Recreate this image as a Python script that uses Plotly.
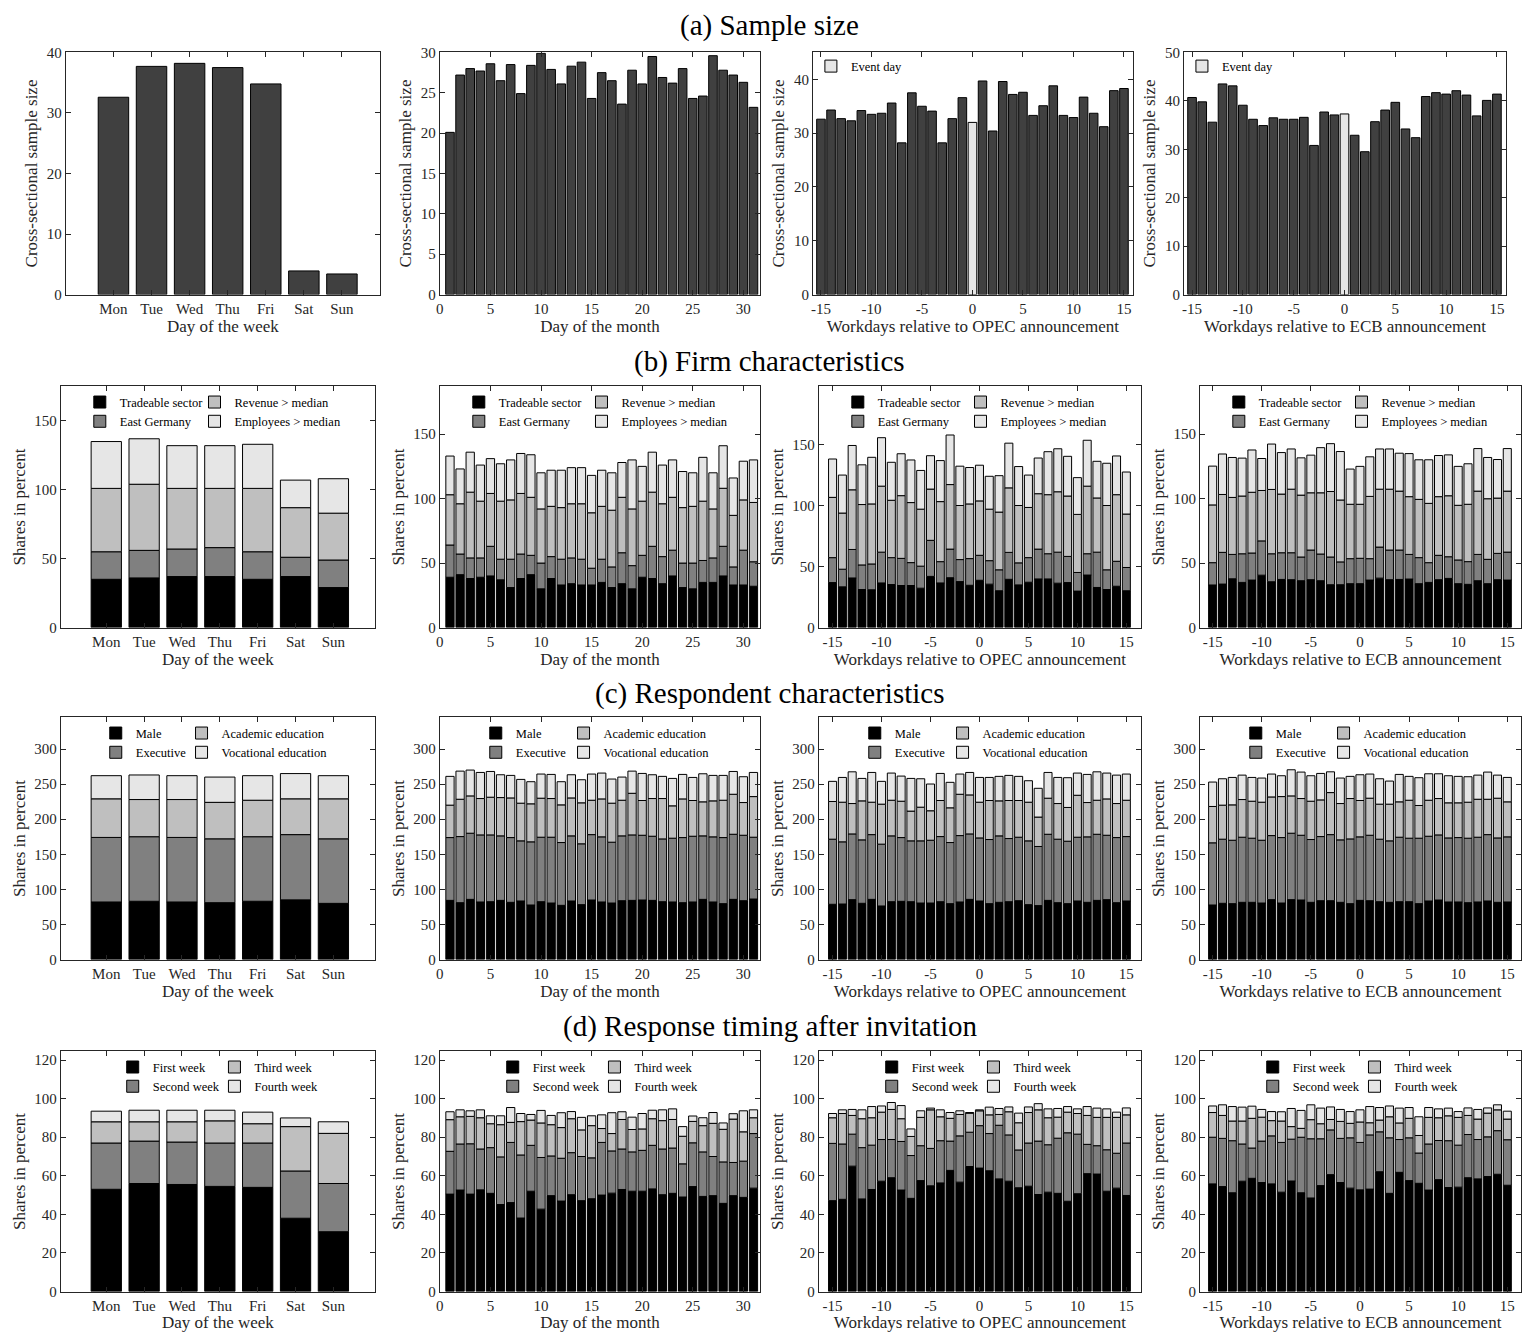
import numpy as np
import plotly.graph_objects as go

W, H = 1535, 1341
FONT = "Liberation Serif"
INK = "#262626"

# ---------------- data ----------------
weekdays = ["Mon", "Tue", "Wed", "Thu", "Fri", "Sat", "Sun"]
week_x = list(range(1, 8))
month_days = list(range(1, 32))
rel_days = list(range(-15, 16))

# (a) sample size
size_week = [32.6, 37.7, 38.2, 37.5, 34.8, 3.9, 3.4]
size_month = [20.1, 27.2, 28.0, 27.7, 28.6, 26.5, 28.5, 24.9, 28.4, 29.9, 27.9, 26.1, 28.3, 28.8, 24.3, 27.5,
              26.5, 23.6, 27.8, 26.1, 29.5, 26.9, 26.2, 28.0, 24.3, 24.6, 29.6, 27.8, 27.2, 26.3, 23.2]
size_opec = [32.6, 34.3, 32.7, 32.3, 34.2, 33.5, 33.7, 35.6, 28.2, 37.5, 35.0, 34.1, 28.2, 32.7, 36.6, 32.0,
             39.7, 30.4, 39.6, 37.2, 37.6, 33.3, 35.1, 38.8, 33.3, 32.9, 36.7, 33.7, 31.2, 37.9, 38.3]
size_ecb = [40.7, 39.8, 35.6, 43.5, 43.1, 39.1, 36.2, 34.9, 36.5, 36.2, 36.2, 36.6, 30.8, 37.7, 37.1, 37.3,
            32.9, 29.5, 35.7, 38.1, 39.7, 34.2, 32.4, 40.9, 41.7, 41.4, 42.1, 41.2, 36.9, 40.1, 41.4]

# (b) firm characteristics: cumulative stack tops
firm_names = ["Tradeable sector", "East Germany", "Revenue > median", "Employees > median"]
firm_week_tradeable = [35, 36, 37, 37, 35, 37, 29]
firm_week_east = [55, 56, 57, 58, 55, 51, 49]
firm_week_revenue = [101, 104, 101, 101, 101, 87, 83]
firm_week_employees = [135, 137, 132, 132, 133, 107, 108]

firm_month_tradeable = [39, 41, 38, 39, 40, 37, 31, 38, 41, 30, 38, 33, 34, 33, 33, 35, 31, 34, 30, 39, 38, 34,
                        40, 31, 30, 35, 35, 40, 33, 33, 32]
firm_month_east = [64, 57, 54, 54, 63, 53, 53, 57, 56, 50, 55, 53, 54, 53, 46, 53, 47, 58, 48, 56, 63, 55, 60,
                   50, 50, 52, 54, 63, 47, 60, 51]
firm_month_revenue = [103, 96, 105, 98, 104, 98, 99, 104, 101, 92, 94, 93, 96, 96, 89, 94, 91, 101, 92, 98, 105,
                      96, 101, 93, 94, 98, 92, 108, 87, 99, 97]
firm_month_employees = [133, 123, 136, 126, 131, 127, 130, 135, 134, 120, 122, 122, 124, 124, 118, 122, 120, 128,
                        130, 125, 136, 126, 130, 121, 120, 132, 120, 141, 116, 129, 130]

firm_opec_tradeable = [36.9, 33.4, 40.7, 31.2, 31, 36.6, 35.3, 34.5, 34.5, 32.3, 42, 36.6, 40.9, 37.7, 34.7, 38.8,
                       35.6, 30.2, 39.6, 35, 37.2, 39.9, 39.9, 36.4, 36.9, 29.9, 43.1, 32.9, 31.2, 33.9, 30.2]
firm_opec_east = [57.4, 47.9, 64.1, 51.4, 52.2, 61.9, 57.4, 56.8, 53.3, 50.4, 71.6, 54.1, 64.4, 55.8, 56.6, 59.3,
                  54.9, 47.4, 61.7, 53.1, 57.4, 64.4, 60.6, 61.9, 58.4, 45.2, 60.6, 61.9, 47.4, 54.4, 49.3]
firm_opec_revenue = [106.9, 94, 113.1, 101, 101.5, 116.1, 104.5, 108.3, 102.6, 97.2, 113.7, 103.4, 117.4, 100.2,
                     101.5, 104, 97.2, 94.8, 114.7, 100.2, 98.6, 109.9, 109.1, 111.5, 108, 92.9, 116.1, 106.4,
                     100.2, 109.1, 93.2]
firm_opec_employees = [138.4, 125.2, 149.5, 133.6, 139.8, 155.9, 135.7, 142.7, 137.6, 129, 141.1, 137.1, 158.1,
                       132.5, 131.4, 133.3, 124.2, 124.7, 151.4, 132.2, 125.2, 139.2, 144.4, 146.8, 140.6, 123.1,
                       153.8, 136.5, 134.9, 140.9, 127.7]

firm_ecb_tradeable = [33, 33.7, 37.8, 35, 36.8, 40.6, 35.5, 37.3, 37.1, 36.3, 37.1, 36.3, 33.2, 33.2, 34, 34, 36.8,
                      38.3, 37.1, 37.3, 37.6, 34, 35, 37.1, 38.1, 34, 33.5, 36.3, 34, 37.1, 36.8]
firm_ecb_east = [50.3, 58.3, 56.7, 57.2, 57.8, 67.2, 57.2, 58, 58, 54.7, 60.1, 57, 54.7, 50.9, 53.4, 53.7, 53.4,
                 62.4, 60.1, 60.1, 56.7, 54.2, 50.3, 56, 54.9, 52.4, 51.1, 56.7, 52.9, 57.5, 58.5]
firm_ecb_revenue = [95.1, 103.2, 100.9, 102, 104.9, 106.3, 107.1, 103.5, 107.3, 102.7, 104.5, 104.5, 105.5, 98.9,
                    95.6, 95.6, 101.7, 107.3, 107.3, 105.8, 101.5, 99.4, 96.3, 101.5, 102.2, 94.8, 95.6, 105.8,
                    99.9, 100.4, 105.8]
firm_ecb_employees = [125.2, 134.6, 131.9, 131.4, 137.7, 131.1, 142.3, 135.7, 138.5, 131.6, 133.7, 139.5, 142.6,
                      136.5, 122.9, 125, 132.4, 138.5, 138.5, 135.2, 134.9, 130.1, 130.1, 133.4, 133.9, 125, 127,
                      138.8, 131.9, 130.3, 138.8]

# (c) respondent characteristics: cumulative stack tops
resp_names = ["Male", "Executive", "Academic education", "Vocational education"]
resp_week_male = [82, 83, 82, 81, 83, 85, 80]
resp_week_exec = [174, 175, 174, 172, 175, 178, 172]
resp_week_acad = [229, 228, 228, 224, 227, 229, 229]
resp_week_voc = [262, 263, 262, 260, 262, 265, 262]

resp_month_male = [84.3, 81, 85.7, 82, 82.4, 84.3, 81.5, 83.4, 77.7, 82.4, 80.5, 77.2, 83.4, 78.2, 84.8, 82, 80.5,
                   83.8, 84.3, 84.8, 84.3, 82.4, 82, 81, 82, 85.7, 82, 79.6, 85.7, 83.8, 86.2]
resp_month_exec = [173.8, 175.2, 180, 177.6, 177.6, 176.2, 173.8, 169.1, 167.7, 174.3, 174.3, 166.7, 176.2, 164.9,
                   178, 174.8, 167.2, 176.2, 177.6, 177.1, 175.7, 171.9, 172.9, 173.8, 175.7, 176.2, 174.8, 173.8,
                   178.5, 177.1, 174.3]
resp_month_acad = [220, 228.4, 233.2, 229.4, 231.3, 230.8, 230.3, 222.8, 221.9, 229.9, 229.4, 220.4, 230.3, 223.3,
                   227, 228.9, 222.8, 227, 236.9, 226.6, 229.4, 229.4, 219, 228.9, 226.6, 224.7, 226.1, 227, 235.5,
                   223.7, 232.2]
resp_month_voc = [261, 268.5, 270, 266.6, 268, 263.3, 262.4, 256.7, 253.4, 264.3, 263.8, 253.4, 263.3, 256.2,
                  264.3, 265.7, 257.2, 260, 268.5, 265.2, 263.3, 261, 258.1, 263.8, 259.5, 264.7, 262.4, 262.4,
                  268, 260.5, 266.6]

resp_opec_male = [78.7, 79.1, 85.3, 80.1, 85.7, 76.3, 82.4, 82.9, 82.4, 80.5, 80.5, 82.4, 79.6, 82, 85.7, 83.4,
                  79.6, 81.5, 82.4, 83.8, 78.2, 76.8, 84.3, 81, 79.6, 83.4, 81.5, 84.3, 85.3, 81, 83.4]
resp_opec_exec = [171.5, 167.7, 179, 170.5, 178, 164.4, 176.2, 173.8, 169.1, 169.1, 170, 175.2, 166.7, 176.6, 179,
                  173.3, 171, 176.2, 172.4, 174.3, 169.1, 161.1, 178.5, 171.5, 168.6, 174.3, 174.8, 178.5, 177.1,
                  173.8, 175.2]
resp_opec_acad = [225.2, 224.2, 222.3, 226.1, 224.2, 221.4, 227, 225.6, 211.5, 217.1, 212, 226.6, 216.2, 235.5,
                  234.6, 224.2, 226.6, 226.1, 226.6, 226.6, 224.2, 203, 229.9, 222.3, 216.7, 234.1, 223.7, 227,
                  228.9, 222.3, 227]
resp_opec_voc = [253.9, 259.5, 267.5, 258.1, 266.6, 253.9, 265.7, 261.4, 258.1, 257.6, 250.1, 265.2, 252.5, 264.3,
                 266.6, 259.5, 259.5, 261, 262.4, 261, 254.8, 244, 266.6, 259.5, 259.1, 265.7, 263.8, 267.5, 265.7,
                 262.8, 264.3]

resp_ecb_male = [77.7, 80.1, 79.6, 81.5, 81.5, 80.5, 85.3, 80.5, 85.3, 84.8, 81.5, 83.8, 83.8, 81.5, 79.6, 84.3,
                 83.8, 82.4, 81.5, 82.4, 82.4, 79.6, 83.4, 84.8, 82, 82, 81, 82, 83.4, 81.5, 82]
resp_ecb_exec = [166.3, 171.5, 170, 174.3, 172.9, 170, 176.6, 173.8, 180, 177.1, 171, 175.2, 178, 170.5, 171.9,
                 174.8, 177.1, 171.5, 169.1, 174.3, 172.9, 172.9, 175.7, 177.6, 173.3, 173.8, 172.9, 174.3, 178,
                 173.3, 174.8]
resp_ecb_acad = [218.1, 220, 220.4, 228, 225.6, 224.2, 231.7, 232.2, 233.2, 229.4, 225.6, 227.5, 237.9, 222.3,
                 229.4, 226.6, 229.9, 221.4, 221.4, 224.7, 227, 219.5, 227, 229.4, 223.3, 223.3, 224.2, 228.4,
                 228.4, 229.9, 224.7]
resp_ecb_voc = [252.9, 257.6, 259.5, 262.8, 259.5, 258.6, 264.3, 261.9, 270.4, 267.1, 261.9, 265.2, 267.5, 258.6,
                261, 263.3, 264.3, 257.6, 254.3, 263.8, 261, 259.1, 264.7, 264.7, 261.9, 261, 260.5, 262.8, 267.1,
                262.8, 259.5]

# (d) response timing: cumulative stack tops
time_names = ["First week", "Second week", "Third week", "Fourth week"]
time_week_w1 = [53, 56, 55.5, 54.5, 54, 38, 31]
time_week_w2 = [77, 78, 77.5, 77, 77, 62.5, 56]
time_week_w3 = [88, 88, 88, 88.5, 87, 85.5, 82]
time_week_w4 = [93.5, 94, 94, 94, 93, 90, 88]

time_month_w1 = [50.5, 52.6, 50.5, 52.7, 50.9, 45.1, 46.1, 38.1, 52, 42.7, 49.7, 46.9, 50.2, 47.1, 48.1, 50, 51,
                 52.9, 52, 52, 53.2, 50.2, 50.9, 49, 54.4, 49.3, 49.7, 45.7, 49.7, 48.8, 53.6]
time_month_w2 = [72.7, 76.5, 76.6, 73.9, 74.6, 69.8, 77.3, 70.8, 75.8, 69.5, 70.3, 69.1, 72, 70, 69.3, 77.3, 72.9,
                 73.9, 72.4, 73.2, 75.8, 73.9, 74.4, 66.2, 77.1, 72.4, 70, 67.2, 66.9, 67.6, 81.9]
time_month_w3 = [89.1, 90.6, 90.8, 90.1, 87, 86.5, 87.7, 88.1, 88.9, 87.4, 86.5, 85, 89.6, 83.8, 86, 84.5, 81.9,
                 89.2, 84, 84.3, 89.6, 88.6, 89.2, 80.5, 88.2, 86, 87.2, 84.1, 89.4, 82.8, 90.1]
time_month_w4 = [93.2, 94.2, 93.7, 94.2, 91.1, 91.1, 95.4, 92.3, 91.8, 93.9, 91.3, 92.7, 93.3, 90.3, 91.1, 91.6,
                 92.7, 93.2, 90.4, 92.3, 94, 94.2, 94.7, 85.5, 91, 90.1, 92.8, 87.4, 92.2, 93.7, 94.2]

time_opec_w1 = [47.1, 47.8, 65, 48, 52.9, 57.2, 59, 52.6, 48.3, 57.5, 54.8, 56.3, 62.8, 56.7, 64.8, 64, 62.6, 58.4,
                57.2, 53.8, 54.6, 50.3, 51.5, 50.9, 46.8, 50.7, 61.1, 60.9, 52, 53.6, 49.8]
time_opec_w2 = [76.8, 76.5, 81.6, 74.6, 75.9, 78.8, 78.8, 77.8, 70.5, 75.6, 74.2, 78.2, 78, 80.7, 82.6, 86, 81.9,
                86.2, 81.2, 73.4, 77, 78, 76.1, 79.5, 82.3, 81.6, 76.3, 75.6, 73.5, 71.7, 77]
time_opec_w3 = [90.1, 92.3, 91.3, 89.6, 90.1, 93, 94.4, 89.6, 80.4, 90.3, 94.2, 90.6, 89.8, 91.8, 92.5, 93.7, 91.6,
                91.8, 93.2, 87.5, 92.8, 94.2, 90.1, 90.4, 93, 92.3, 91.3, 90.3, 90.3, 90.3, 91.6]
time_opec_w4 = [92.3, 94.2, 94.4, 94.2, 95.9, 96.2, 98, 96.4, 84.3, 93.7, 95.1, 94.2, 92.8, 93.7, 92.8, 94.2, 95.6,
                94.9, 95.7, 92.5, 95.7, 97.4, 94.7, 94.9, 95.9, 94.7, 95.9, 95.1, 94.7, 93, 95.2]

time_ecb_w1 = [55.8, 54.4, 51.2, 57.2, 58.7, 56.5, 55.8, 51.5, 57.3, 51.2, 48.5, 54.9, 60.6, 56.5, 53.6, 52.7, 53.1,
               62.1, 50.9, 61.8, 57.5, 56.1, 52.6, 58, 53.9, 54.1, 59, 58.4, 59.6, 60.8, 55.1]
time_ecb_w2 = [80, 79.4, 78.2, 76.5, 74.4, 78, 80.7, 77.3, 79, 80, 79.2, 79.2, 83.8, 79.4, 79.7, 77.3, 81.2, 82.8,
               79.7, 78.8, 79.7, 71.8, 76.5, 78.3, 78.2, 75.9, 81.4, 78.8, 80.2, 83.4, 78.7]
time_ecb_w3 = [92.8, 91.3, 88.4, 88.4, 89.8, 90.4, 88.6, 88.4, 85.5, 84.6, 89.1, 87, 89.2, 88.2, 87.2, 87.9, 87.5,
               88.9, 90.6, 87.4, 89.8, 80.9, 90.3, 90.1, 91.1, 90.3, 91.3, 89.4, 92.5, 94.2, 89.4]
time_ecb_w4 = [96.2, 96.8, 95.9, 95.6, 96.1, 94.4, 93.3, 93.2, 94.9, 93.9, 96.8, 95.1, 95.7, 94.4, 93.3, 94.2, 95.9,
               95.4, 96.2, 95.1, 95.4, 90.6, 95.4, 94.7, 95.1, 93.3, 95.2, 94.4, 95.2, 96.8, 93.5]

section_titles = ["(a) Sample size", "(b) Firm characteristics", "(c) Respondent characteristics",
                  "(d) Response timing after invitation"]
x_titles = ["Day of the week", "Day of the month", "Workdays relative to OPEC announcement",
            "Workdays relative to ECB announcement"]

# ---------------- layout geometry (pixels) ----------------
col_px = {
    0: [(62, 377), (437, 758), (811, 1132), (1183, 1506)],
    1: [(57, 372), (437, 758), (817, 1140), (1199, 1521)],
}
row_px = [(45, 290), (383, 627), (718, 963), (1056, 1299)]
title_y_px = [18, 358, 694, 1031]

stack_colors = ["#000000", "#808080", "#bfbfbf", "#e6e6e6"]
x_ranges = [[-0.2, 8.1], [0, 31.65], [-16.4, 16.5], [-16.3, 16.4]]
x_ranges_a = [[-0.25, 8.0], [0, 31.65], [-15.8, 15.9], [-15.8, 15.9]]

TICK_SIZE = 15
AXTITLE_SIZE = 17
LEGEND_SIZE = 12.5
SECTION_SIZE = 29

fig = go.Figure()
layout = {}
legend_count = [0]


def new_legend(px_left, px_top):
    legend_count[0] += 1
    name = "legend" if legend_count[0] == 1 else f"legend{legend_count[0]}"
    layout[name] = dict(
        x=px_left / W, y=1 - px_top / H, xanchor="left", yanchor="top",
        bgcolor="rgba(255,255,255,0)", borderwidth=0,
        font=dict(family=FONT, size=LEGEND_SIZE, color="#000000"),
        orientation="v", tracegroupgap=0, itemclick=False, itemdoubleclick=False,
        traceorder="normal", itemwidth=30,
    )
    return name


def axis_setup(n, row, col, xrange, yrange, ytick, ytitle):
    xs = "" if n == 1 else str(n)
    xp = col_px[0 if row == 0 else 1][col]
    yp = row_px[row]
    common = dict(showline=True, linecolor=INK, linewidth=1, mirror="allticks", ticks="inside",
                  ticklen=5, tickcolor=INK, showgrid=False, zeroline=False,
                  tickfont=dict(family=FONT, size=TICK_SIZE, color=INK))
    if col == 0:
        xticks = dict(tickmode="array", tickvals=week_x, ticktext=weekdays)
    elif col == 1:
        xticks = dict(tickmode="array", tickvals=[0, 5, 10, 15, 20, 25, 30])
    else:
        xticks = dict(tickmode="array", tickvals=[-15, -10, -5, 0, 5, 10, 15],
                      ticktext=["-15", "-10", "-5", "0", "5", "10", "15"])
    layout["xaxis" + xs] = dict(
        domain=[xp[0] / W, xp[1] / W], anchor="y" + xs, range=xrange,
        title=dict(text=x_titles[col], font=dict(family=FONT, size=AXTITLE_SIZE, color=INK), standoff=2),
        **xticks, **common)
    layout["yaxis" + xs] = dict(
        domain=[1 - yp[1] / H, 1 - yp[0] / H], anchor="x" + xs, range=yrange,
        tickmode="linear", tick0=0, dtick=ytick,
        title=dict(text=ytitle, font=dict(family=FONT, size=AXTITLE_SIZE, color=INK), standoff=4),
        **common)
    return "x" + xs, "y" + xs, xp, yp


def add_stack(n, row, col, x, tops, names, width, legend_offsets, yrange, ytick):
    xa, ya, xp, yp = axis_setup(n, row, col, x_ranges[col], yrange, ytick, "Shares in percent")
    lg_a = new_legend(xp[0] + legend_offsets[0], yp[0] + 1)
    lg_b = new_legend(xp[0] + legend_offsets[1], yp[0] + 1)
    prev = np.zeros(len(x))
    for i, (top, name) in enumerate(zip(tops, names)):
        top = np.array(top, dtype=float)
        seg = top - prev
        fig.add_trace(go.Bar(
            x=x, y=seg, base=prev, name=name, width=width, xaxis=xa, yaxis=ya,
            marker=dict(color=stack_colors[i], line=dict(color="#000000", width=1)),
            legend=lg_a if i < 2 else lg_b, showlegend=True, hoverinfo="skip"))
        prev = top


# ---------------- row (a) ----------------
n = 1
sizes = [(week_x, size_week, [0, 40], 10), (month_days, size_month, [0, 30], 5),
         (rel_days, size_opec, [0, 45], 10), (rel_days, size_ecb, [0, 50], 10)]
for col, (x, y, yr, dt) in enumerate(sizes):
    xa, ya, xp, yp = axis_setup(n, 0, col, x_ranges_a[col], yr, dt, "Cross-sectional sample size")
    width = 0.8 if col == 0 else 0.85
    if col < 2:
        fig.add_trace(go.Bar(x=x, y=y, width=width, xaxis=xa, yaxis=ya, showlegend=False,
                             marker=dict(color="#404040", line=dict(color="#000000", width=1)),
                             hoverinfo="skip"))
    else:
        lg = new_legend(xp[0] - 2, yp[0] - 1)
        xn = [d for d in x if d != 0]
        yn = [v for d, v in zip(x, y) if d != 0]
        xe = [d for d in x if d == 0]
        ye = [v for d, v in zip(x, y) if d == 0]
        fig.add_trace(go.Bar(x=xn, y=yn, width=width, xaxis=xa, yaxis=ya, showlegend=False,
                             marker=dict(color="#404040", line=dict(color="#000000", width=1)),
                             hoverinfo="skip"))
        fig.add_trace(go.Bar(x=xe, y=ye, width=width, xaxis=xa, yaxis=ya, name="Event day",
                             legend=lg, showlegend=True,
                             marker=dict(color="#e6e6e6", line=dict(color="#000000", width=1)),
                             hoverinfo="skip"))
    n += 1

# ---------------- rows (b)-(d) ----------------
stack_rows = [
    (firm_names, [0, 175], [0, 187], [0, 198], [0, 187], 50, (19, 134), (19, 142), [
        [firm_week_tradeable, firm_week_east, firm_week_revenue, firm_week_employees],
        [firm_month_tradeable, firm_month_east, firm_month_revenue, firm_month_employees],
        [firm_opec_tradeable, firm_opec_east, firm_opec_revenue, firm_opec_employees],
        [firm_ecb_tradeable, firm_ecb_east, firm_ecb_revenue, firm_ecb_employees]]),
    (resp_names, [0, 345], [0, 345], [0, 345], [0, 345], 50, (35, 121), (36, 124), [
        [resp_week_male, resp_week_exec, resp_week_acad, resp_week_voc],
        [resp_month_male, resp_month_exec, resp_month_acad, resp_month_voc],
        [resp_opec_male, resp_opec_exec, resp_opec_acad, resp_opec_voc],
        [resp_ecb_male, resp_ecb_exec, resp_ecb_acad, resp_ecb_voc]]),
    (time_names, [0, 124.5], [0, 124.5], [0, 124.5], [0, 124.5], 20, (52, 154), (53, 155), [
        [time_week_w1, time_week_w2, time_week_w3, time_week_w4],
        [time_month_w1, time_month_w2, time_month_w3, time_month_w4],
        [time_opec_w1, time_opec_w2, time_opec_w3, time_opec_w4],
        [time_ecb_w1, time_ecb_w2, time_ecb_w3, time_ecb_w4]]),
]
xs_by_col = [week_x, month_days, rel_days, rel_days]
for r, (names, yr0, yr1, yr2, yr3, dt, off_w, off_o, panels) in enumerate(stack_rows, start=1):
    yrs = [yr0, yr1, yr2, yr3]
    for col in range(4):
        width = 0.8 if col == 0 else 0.82
        offs = off_w if col == 0 else off_o
        add_stack(n, r, col, xs_by_col[col], panels[col], names, width, offs, yrs[col], dt)
        n += 1

annotations = []
for t, ty in zip(section_titles, title_y_px):
    annotations.append(dict(text=t, x=0.5, y=1 - ty / H, xref="paper", yref="paper",
                            xanchor="center", yanchor="middle", showarrow=False,
                            font=dict(family=FONT, size=SECTION_SIZE, color="#000000")))

fig.update_layout(
    width=W, height=H, margin=dict(l=0, r=0, t=0, b=0),
    paper_bgcolor="white", plot_bgcolor="white",
    barmode="overlay", annotations=annotations,
    font=dict(family=FONT, color=INK),
    **layout,
)

fig.write_html("out.html", config={"displayModeBar": False},
               post_script="document.body.style.margin='0';")
